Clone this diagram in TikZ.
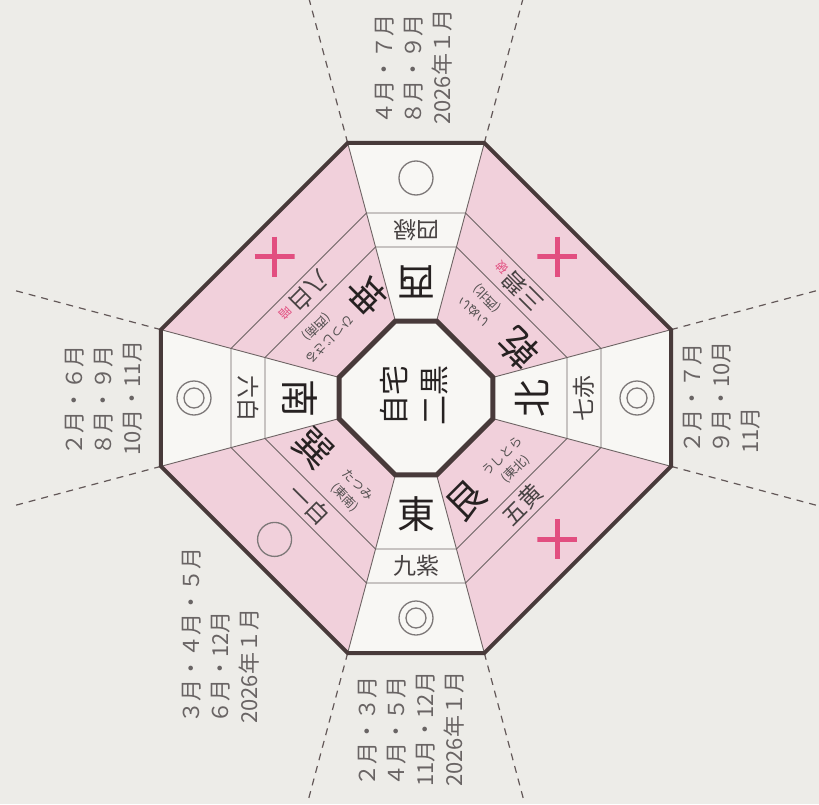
\documentclass[tikz,border=0pt]{standalone}
\usepackage{fontspec}
\setmainfont{Noto Sans CJK JP}
\usetikzlibrary{calc}
\definecolor{papercolor}{RGB}{237,236,232}
\definecolor{cellcolor}{RGB}{248,247,244}
\definecolor{pinkcolor}{RGB}{241,208,219}
\definecolor{framecolor}{RGB}{72,58,58}
\definecolor{linecolor}{RGB}{110,100,100}
\definecolor{markcolor}{RGB}{226,78,128}
\definecolor{textcolor}{RGB}{38,33,33}
\definecolor{monthcolor}{RGB}{105,100,100}
\definecolor{circlecolor}{RGB}{125,120,120}
\tikzset{
    thinline/.style={draw=linecolor, line width=0.9pt},
    frame/.style={draw=framecolor, line join=miter},
    sepline/.style={draw=framecolor!85, line width=1.2pt, dash pattern=on 7pt off 6pt},
    hoi/.style={inner sep=0pt, transform shape, text=textcolor, font=\fontsize{38}{38}\selectfont},
    kyusei/.style={inner sep=0pt, transform shape, text=textcolor!85, font=\fontsize{23}{23}\selectfont},
    yomi/.style={inner sep=0pt, transform shape, align=center, text=textcolor!80, font=\fontsize{12.5}{18}\selectfont},
    note/.style={inner sep=0pt, transform shape, text=markcolor, font=\fontsize{12}{12}\selectfont},
    home/.style={inner sep=0pt, rotate=90, align=center, text=textcolor, font=\fontsize{30}{40}\selectfont},
    month/.style={inner sep=0pt, rotate=90, anchor=west, align=left, text=monthcolor, font=\fontsize{22}{29}\selectfont},
    maru/.style={circle, draw=circlecolor, line width=1.3pt, minimum size=34pt, inner sep=0pt},
    nijumaru/.style={maru, path picture={\draw[circlecolor, line width=1.3pt] (path picture bounding box.center) circle (10pt);}},
    plusmark/.style={minimum size=40pt, inner sep=0pt, path picture={
        \draw[markcolor, line width=4.5pt] (path picture bounding box.north) -- (path picture bounding box.south)
            (path picture bounding box.west) -- (path picture bounding box.east);}}
}

\begin{document}
\begin{tikzpicture}[x=1pt, y=1pt]
    \clip (-416,-406) rectangle (403,398);
    \fill[papercolor] (-416,-406) rectangle (403,398);

    % Sectors
    \foreach \a in {0,90,180,270}
        \fill[cellcolor] (\a-15:79.7) -- (\a-15:264) -- (\a+15:264) -- (\a+15:79.7) -- cycle;
    \foreach \a in {45,135,225,315}
        \fill[pinkcolor] (\a-30:79.7) -- (\a-30:264) -- (\a+30:264) -- (\a+30:79.7) -- cycle;

    % Rings and borders
    \foreach \r in {156.3,191.5}
        \draw[thinline] (15:\r) -- (75:\r) -- (105:\r) -- (165:\r) -- (195:\r) -- (255:\r) -- (285:\r) -- (345:\r) -- cycle;
    \foreach \a in {15,75,105,165,195,255,285,345} {
        \draw[thinline] (\a:79.7) -- (\a:264);
        \draw[sepline] (\a:264) -- (\a:418);
    }
    \draw[frame, fill=cellcolor, line width=5pt] (15:79.7) -- (75:79.7) -- (105:79.7) -- (165:79.7) -- (195:79.7) -- (255:79.7) -- (285:79.7) -- (345:79.7) -- cycle;
    \draw[frame, line width=4pt] (15:264) -- (75:264) -- (105:264) -- (165:264) -- (195:264) -- (255:264) -- (285:264) -- (345:264) -- cycle;

    % Centre
    \node[home] (home) at (-2,3) {自宅\\二黒};

    % Cardinal sectors
    \foreach \a/\n/\hname/\kname in {0/kita/北/七赤, 90/nishi/西/四緑, 180/minami/南/六白, 270/higashi/東/九紫} {
        \begin{scope}[rotate=\a+90]
            \node[hoi] (hoi-\n) at (0,-116) {\hname};
            \node[kyusei] (kyu-\n) at (0,-168) {\kname};
        \end{scope}
    }

    % Corner sectors
    \foreach \a/\n/\hname/\yname/\dname/\kname in {45/inui/乾/いぬい/(西北)/三碧, 135/hitsujisaru/坤/ひつじさる/(西南)/八白, 225/tatsumi/巽/たつみ/(東南)/一白, 315/ushitora/艮/うしとら/(東北)/五黄} {
        \begin{scope}[rotate=\a+90]
            \node[hoi] (hoi-\n) at (-37,-108) {\hname};
            \node[yomi] (yomi-\n) at (20,-112) {\yname\\\dname};
            \node[kyusei] (kyu-\n) at (0,-151) {\kname};
        \end{scope}
    }
    \begin{scope}[rotate=135]
        \node[note] (note-inui) at (32,-153) {破};
    \end{scope}
    \begin{scope}[rotate=225]
        \node[note] (note-hitsujisaru) at (32,-153) {暗};
    \end{scope}

    % Outer marks
    \node[maru] (mark-nishi) at (90:220) {};
    \node[maru] (mark-tatsumi) at (225:200) {};
    \node[nijumaru] (mark-kita) at (0:221) {};
    \node[nijumaru] (mark-minami) at (180:222) {};
    \node[nijumaru] (mark-higashi) at (270:220) {};
    \node[plusmark] (mark-inui) at (45:200) {};
    \node[plusmark] (mark-hitsujisaru) at (135:200) {};
    \node[plusmark] (mark-ushitora) at (315:200) {};

    % Months
    \node[month] (month-nishi) at (-2,273) {４月・７月\\８月・９月\\2026年１月};
    \node[month] (month-kita) at (306,-56) {２月・７月\\９月・10月\\11月};
    \node[month] (month-minami) at (-312,-58) {２月・６月\\８月・９月\\10月・11月};
    \node[month] (month-tatsumi) at (-195,-326) {３月・４月・５月\\６月・12月\\2026年１月};
    \node[month] (month-higashi) at (-5,-389) {２月・３月\\４月・５月\\11月・12月\\2026年１月};
\end{tikzpicture}
\end{document}
